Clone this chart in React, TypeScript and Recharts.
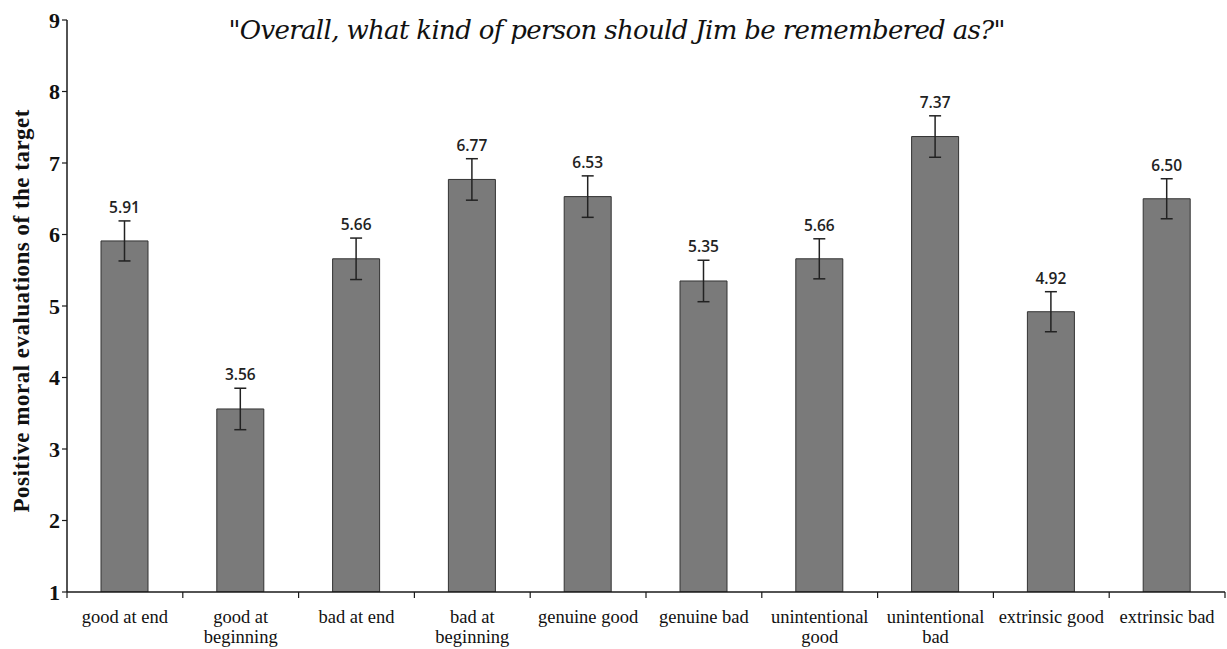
import React from "react";
import { Bar, BarChart, ErrorBar, LabelList, XAxis, YAxis } from "recharts";

const categories = [
  "good at end",
  "good at\nbeginning",
  "bad at end",
  "bad at\nbeginning",
  "genuine good",
  "genuine bad",
  "unintentional\ngood",
  "unintentional\nbad",
  "extrinsic good",
  "extrinsic bad",
];
const means = [5.91, 3.56, 5.66, 6.77, 6.53, 5.35, 5.66, 7.37, 4.92, 6.5];
const errors = [0.28, 0.29, 0.29, 0.29, 0.29, 0.29, 0.28, 0.29, 0.28, 0.28];
const yTicks = [1, 2, 3, 4, 5, 6, 7, 8, 9];

const data = categories.map((name, i) => ({ name, value: means[i], err: errors[i] }));

const serif = "'Liberation Serif', 'Times New Roman', serif";
const axisColor = "#1a1a1a";

function CategoryTick(props: any) {
  const { x, y, payload, index } = props;
  const half = payload?.offset ?? 57.9;
  const lines = String(payload.value).split("\n");
  return (
    <g>
      <line x1={x + half} x2={x + half} y1={y - 8} y2={y - 2} stroke={axisColor} strokeWidth={1.2} />
      {index === 0 && <line x1={x - half} x2={x - half} y1={y - 8} y2={y - 2} stroke={axisColor} strokeWidth={1.2} />}
      <text x={x} y={y + 23} textAnchor="middle" fontFamily={serif} fontSize={18.5} fill="#111">
        {lines.map((l, i) => (
          <tspan key={i} x={x} dy={i === 0 ? 0 : 20}>
            {l}
          </tspan>
        ))}
      </text>
    </g>
  );
}

function ValueLabel(props: any) {
  const { x, y, width, height, value, index } = props;
  const k = height / (value - 1);
  const top = y - errors[index] * k;
  return (
    <text x={x + width / 2} y={top - 8} textAnchor="middle" fontFamily="'Open Sans', 'Noto Sans', sans-serif" fontWeight={600} fontSize={15.5} fill="#222">
      {value.toFixed(2)}
    </text>
  );
}

export default function App() {
  return (
    <div style={{ position: "absolute", left: 0, top: 0, width: 1227, height: 649, background: "#fff" }}>
      <BarChart width={1227} height={649} data={data} margin={{ top: 20, right: 2, bottom: 7, left: 22 }}>
        <text x={617} y={39} textAnchor="middle" fontFamily="'DejaVu Serif', serif" fontStyle="italic" fontSize={26} fill="#111" textLength={777}>
          "Overall, what kind of person should Jim be remembered as?"
        </text>
        <text
          x={29}
          y={311}
          transform="rotate(-90 29 311)"
          textAnchor="middle"
          fontFamily={serif}
          fontWeight="bold"
          fontSize={23}
          fill="#111"
          textLength={403}
        >
          Positive moral evaluations of the target
        </text>
        <XAxis
          dataKey="name"
          interval={0}
          height={50}
          tickLine={false}
          tick={<CategoryTick />}
          axisLine={{ stroke: axisColor, strokeWidth: 1.5 }}
        />
        <YAxis
          domain={[1, 9]}
          ticks={yTicks}
          width={45}
          tickSize={5}
          tickLine={{ stroke: axisColor, strokeWidth: 1.2 }}
          axisLine={{ stroke: axisColor, strokeWidth: 1.5 }}
          tick={{ fontFamily: serif, fontWeight: "bold", fontSize: 22, fill: "#111" }}
          allowDataOverflow
        />
        <Bar dataKey="value" barSize={47} fill="#7a7a7a" stroke="#333" strokeWidth={1} isAnimationActive={false}>
          <ErrorBar dataKey="err" width={6} stroke="#222" strokeWidth={1.5} />
          <LabelList dataKey="value" content={<ValueLabel />} />
        </Bar>
      </BarChart>
    </div>
  );
}
